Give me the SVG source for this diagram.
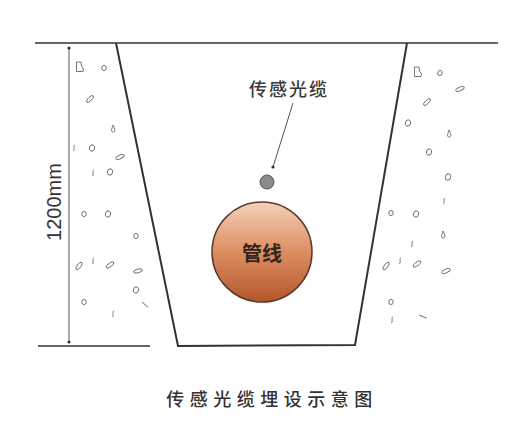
<svg xmlns="http://www.w3.org/2000/svg" width="512" height="436" viewBox="0 0 512 436">
  <style>
    .ground { stroke: #333; stroke-width: 1.5; fill: none; }
    .trench { stroke: #333; stroke-width: 2; fill: none; stroke-linejoin: miter; }
    .dim { stroke: #555; stroke-width: 1; fill: none; }
    .peb { stroke: #666; stroke-width: 0.9; fill: none; }
    .cjk { font-family: "Noto Sans CJK SC", "Liberation Sans", sans-serif; }
  </style>
  <defs>
    <linearGradient id="pipeFill" x1="0" y1="0" x2="0" y2="1">
      <stop offset="0" stop-color="#f5d0b8"/>
      <stop offset="0.5" stop-color="#dc8e63"/>
      <stop offset="1" stop-color="#b4562b"/>
    </linearGradient>
    <marker id="dot" viewBox="0 0 4 4" refX="2" refY="2" markerWidth="4" markerHeight="4" markerUnits="userSpaceOnUse">
      <circle cx="2" cy="2" r="1.6" fill="#333"/>
    </marker>
    <ellipse id="pe" cx="0" cy="0" rx="2.6" ry="3.2"/>
    <ellipse id="pl" cx="0" cy="0" rx="4.5" ry="1.8" transform="rotate(-25)"/>
    <ellipse id="ps" cx="0" cy="0" rx="2.2" ry="2.6"/>
    <path id="pd" d="M0,-4 C1.5,-1 2.5,1 1.5,2.5 C0.5,3.5 -1.5,3 -1.5,1.5 C-1.5,0 -0.5,-2 0,-4 Z"/>
    <path id="pz" d="M1,-3 C-1.5,-2 1.5,0 -0.5,1 M0,1 C1.5,1.5 -1,3 -1,3"/>
    <path id="pb" d="M-3.5,-5 L1,-5 L1.5,-1 L3.5,2 L3,4.5 L-3.5,4.5 Z"/>
    <path id="pm" d="M-4,1 L3.5,-1.5" />
  </defs>

  <!-- ground surface and trench -->
  <g id="ground">
    <line class="ground" x1="35" y1="43" x2="498" y2="43"/>
    <line class="ground" x1="38" y1="346" x2="150" y2="346"/>
  </g>
  <g id="trench">
    <polyline class="trench" points="116,43 178,346 355,345 407,43"/>
  </g>

  <!-- surrounding soil pebbles -->
  <g id="soil" class="peb">
    <use href="#pb" x="80" y="67"/>
    <use href="#ps" x="104" y="68" transform="rotate(20 104 68)"/>
    <use href="#pl" x="90" y="99" transform="rotate(-20 90 99)"/>
    <use href="#pd" x="113" y="129"/>
    <use href="#pz" x="74" y="148"/>
    <use href="#pe" x="92" y="148" transform="rotate(20 92 148)"/>
    <use href="#pl" x="120" y="157"/>
    <use href="#pz" x="93" y="173"/>
    <use href="#pe" x="110" y="172" transform="rotate(20 110 172)"/>
    <use href="#ps" x="84" y="214"/>
    <use href="#pe" x="108" y="214" transform="rotate(20 108 214)"/>
    <use href="#ps" x="136" y="236"/>
    <use href="#pl" x="79" y="266" transform="rotate(-30 79 266)"/>
    <use href="#pz" x="93" y="261"/>
    <use href="#pl" x="110" y="265" transform="rotate(-10 110 265)"/>
    <use href="#pl" x="138" y="271" transform="rotate(10 138 271)"/>
    <use href="#pe" x="136" y="290" transform="rotate(20 136 290)"/>
    <use href="#pm" x="145" y="305" transform="rotate(60 145 305)"/>
    <use href="#ps" x="84" y="302"/>
    <use href="#pz" x="113" y="314"/>

    <use href="#pb" x="418" y="72"/>
    <use href="#ps" x="440" y="73" transform="rotate(20 440 73)"/>
    <use href="#pl" x="460" y="89"/>
    <use href="#pl" x="427" y="102" transform="rotate(-20 427 102)"/>
    <use href="#pe" x="408" y="123" transform="rotate(20 408 123)"/>
    <use href="#pd" x="449" y="134"/>
    <use href="#pe" x="429" y="152" transform="rotate(20 429 152)"/>
    <use href="#pe" x="448" y="177" transform="rotate(25 448 177)"/>
    <use href="#pz" x="444" y="201"/>
    <use href="#ps" x="391" y="213"/>
    <use href="#pe" x="416" y="214" transform="rotate(20 416 214)"/>
    <use href="#pd" x="443" y="235"/>
    <use href="#pz" x="412" y="244"/>
    <use href="#pl" x="386" y="266" transform="rotate(-30 386 266)"/>
    <use href="#pz" x="400" y="261"/>
    <use href="#pl" x="417" y="264" transform="rotate(-10 417 264)"/>
    <use href="#pl" x="446" y="271"/>
    <use href="#ps" x="391" y="302"/>
    <use href="#pz" x="392" y="320"/>
    <use href="#pm" x="423" y="317" transform="rotate(40 423 317)"/>
  </g>

  <!-- depth dimension -->
  <g id="dimension">
    <line class="dim" x1="69" y1="48" x2="69" y2="342" marker-start="url(#dot)" marker-end="url(#dot)"/>
    <text x="54" y="202" transform="rotate(-90 54 202)" text-anchor="middle" dominant-baseline="central" font-family="Liberation Sans, Arial, sans-serif" font-size="20" fill="#333">1200mm</text>
  </g>

  <!-- connectors -->
  <g id="connectors">
    <line x1="293" y1="103" x2="273" y2="167" stroke="#555" stroke-width="1" marker-end="url(#dot)"/>
  </g>

  <!-- sensing fibre cable -->
  <g id="cable">
    <circle cx="267" cy="182" r="7" fill="#8a8a8a" stroke="#555" stroke-width="1"/>
  </g>
  <g id="cable-label">
    <text class="cjk" x="289" y="96" text-anchor="middle" font-size="18" font-weight="500" fill="#3a3a3a" letter-spacing="2">传感光缆</text>
  </g>

  <!-- pipeline -->
  <g id="pipe">
    <circle cx="262" cy="252" r="50" fill="url(#pipeFill)" stroke="#5a3a2a" stroke-width="1.5"/>
    <text class="cjk" x="262" y="252" text-anchor="middle" dominant-baseline="central" font-size="20" font-weight="bold" fill="#33241a">管线</text>
  </g>

  <!-- caption -->
  <g id="caption">
    <text class="cjk" x="272" y="406" text-anchor="middle" font-size="18" font-weight="500" fill="#333" letter-spacing="5.5">传感光缆埋设示意图</text>
  </g>
</svg>
